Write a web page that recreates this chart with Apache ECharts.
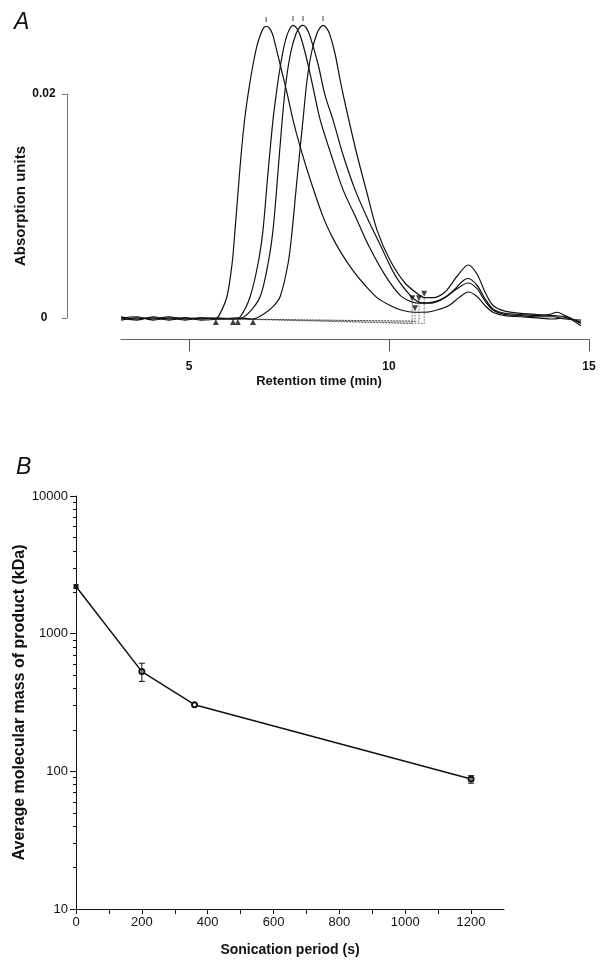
<!DOCTYPE html>
<html>
<head>
<meta charset="utf-8">
<script src="https://cdn.jsdelivr.net/npm/echarts@6/dist/echarts.min.js"></script>
<style>
  html, body { margin: 0; padding: 0; background: #fff; }
  #chart { width: 603px; height: 970px; }
</style>
</head>
<body>
<div id="chart"></div>
<script>
// ---- panel A : chromatograms (time in min, absorbance units) ----
const trace1Time = [3.3, 3.7, 4.1, 4.5, 4.9, 5.3, 5.67, 5.78, 5.95, 6.08, 6.15, 6.22, 6.3, 6.4, 6.5, 6.6, 6.7, 6.8, 6.87, 6.93, 7.0, 7.08, 7.15, 7.28, 7.45, 7.6, 7.78, 8.03, 8.35, 8.58, 8.8, 9.1, 9.4, 9.7, 10.03, 10.3, 10.65, 10.9, 11.2, 11.5, 11.75, 11.98, 12.2, 12.4, 12.6, 12.9, 13.3, 13.7, 14.1, 14.4, 14.8];
const trace1Abs  = [0.0001, -0.0001, 0.0002, 0.0, 0.0001, -0.0001, 0.0, 0.0005, 0.002, 0.005, 0.0079, 0.011, 0.0145, 0.018, 0.0205, 0.0226, 0.0243, 0.0254, 0.0259, 0.026, 0.0259, 0.0254, 0.0245, 0.0226, 0.0201, 0.0177, 0.0153, 0.0124, 0.0091, 0.0073, 0.0059, 0.0043, 0.003, 0.0019, 0.0012, 0.0008, 0.0006, 0.0006, 0.0008, 0.0012, 0.0019, 0.0024, 0.002, 0.0012, 0.0006, 0.0003, 0.0002, 0.0001, 0.0, 0.0001, -0.0003];

const trace2Time = [3.3, 3.7, 4.1, 4.5, 4.9, 5.3, 5.7, 6.1, 6.28, 6.53, 6.73, 6.85, 6.96, 7.1, 7.2, 7.28, 7.38, 7.48, 7.6, 7.7, 7.8, 7.95, 8.1, 8.28, 8.6, 8.85, 9.2, 9.48, 9.9, 10.28, 10.58, 10.8, 11.1, 11.4, 11.7, 11.98, 12.2, 12.4, 12.6, 12.9, 13.3, 13.7, 14.1, 14.4, 14.8];
const trace2Abs  = [0.0002, 0.0, 0.0001, -0.0001, 0.0001, 0.0, 0.0001, 0.0, 0.0002, 0.002, 0.005, 0.0079, 0.0124, 0.0177, 0.0205, 0.0224, 0.0243, 0.0255, 0.0261, 0.0258, 0.025, 0.023, 0.0206, 0.0177, 0.0141, 0.0115, 0.0088, 0.0066, 0.0039, 0.0021, 0.0015, 0.0014, 0.0015, 0.0019, 0.0027, 0.0032, 0.0027, 0.0016, 0.0008, 0.0004, 0.0003, 0.0002, 0.0002, 0.0, -0.0001];

const trace3Time = [3.3, 3.7, 4.1, 4.5, 4.9, 5.3, 5.8, 6.22, 6.48, 6.78, 6.98, 7.1, 7.21, 7.33, 7.43, 7.55, 7.68, 7.78, 7.85, 7.93, 8.03, 8.23, 8.4, 8.6, 8.85, 9.15, 9.48, 9.78, 10.15, 10.53, 10.75, 11.0, 11.3, 11.6, 11.85, 11.98, 12.2, 12.4, 12.6, 12.9, 13.3, 13.7, 14.0, 14.2, 14.4, 14.8];
const trace3Abs  = [-0.0001, 0.0001, 0.0, 0.0002, 0.0, 0.0001, 0.0, 0.0, 0.0005, 0.002, 0.005, 0.0079, 0.0124, 0.0177, 0.0212, 0.0238, 0.0254, 0.026, 0.0261, 0.0259, 0.0251, 0.0226, 0.0199, 0.0177, 0.0146, 0.0115, 0.0088, 0.0066, 0.0039, 0.0021, 0.0015, 0.0014, 0.0017, 0.0025, 0.0034, 0.0036, 0.003, 0.0018, 0.0009, 0.0005, 0.0004, 0.0003, 0.0004, 0.0006, 0.0003, -0.0004];

const trace4Time = [3.3, 3.7, 4.1, 4.5, 4.9, 5.3, 5.8, 6.2, 6.6, 6.85, 7.1, 7.28, 7.48, 7.58, 7.7, 7.85, 7.95, 8.07, 8.2, 8.28, 8.35, 8.43, 8.52, 8.65, 8.78, 8.95, 9.2, 9.45, 9.7, 10.03, 10.4, 10.73, 10.88, 11.1, 11.4, 11.7, 11.98, 12.2, 12.4, 12.6, 12.9, 13.3, 13.7, 14.1, 14.4, 14.8];
const trace4Abs  = [0.0001, 0.0002, -0.0001, 0.0001, -0.0001, 0.0001, 0.0, 0.0001, 0.0, 0.0004, 0.0011, 0.002, 0.005, 0.0079, 0.0124, 0.0177, 0.0212, 0.0238, 0.0254, 0.0259, 0.0261, 0.0259, 0.0253, 0.0236, 0.0212, 0.0184, 0.0146, 0.0112, 0.0079, 0.0052, 0.0032, 0.0022, 0.0019, 0.0019, 0.0024, 0.0038, 0.0048, 0.004, 0.0024, 0.0012, 0.0007, 0.0005, 0.0004, 0.0003, 0.0002, -0.0006];

const peakStart = [[5.67, 0], [6.1, 0], [6.22, 0], [6.6, 0]];
const peakEnd   = [[10.65, 0.0006], [10.58, 0.0015], [10.75, 0.0015], [10.88, 0.0019]];
const peakApex  = [[6.93, 0.026], [7.6, 0.0261], [7.85, 0.0261], [8.35, 0.0261]];
const timeTicks = [5, 10, 15];

// ---- panel B : mass vs sonication ----
const sonicationTime = [0, 200, 360, 1200];
const averageMass    = [2200, 530, 305, 88];
const massErrLow     = [null, 450, null, 82];
const massErrHigh    = [null, 610, null, 93];
const massMinorTicks = [20, 30, 40, 50, 60, 70, 80, 90, 200, 300, 400, 500, 600, 700, 800, 900, 2000, 3000, 4000, 5000, 6000, 7000, 8000, 9000];

const FONT = 'Liberation Sans, Arial, Helvetica, sans-serif';
const traces = [[trace1Time, trace1Abs], [trace2Time, trace2Abs], [trace3Time, trace3Abs], [trace4Time, trace4Abs]];

const chart = echarts.init(document.getElementById('chart'));

let series = [];
traces.forEach(function (tr) {
  series.push({
    type: 'line', xAxisIndex: 0, yAxisIndex: 0,
    data: tr[0].map(function (t, i) { return [t, tr[1][i]]; }),
    smooth: 0.3, symbol: 'none',
    lineStyle: { color: '#111', width: 1.2 },
    silent: true, z: 3
  });
});
// dotted baselines from start to end of each peak
peakStart.forEach(function (s, i) {
  let e = peakEnd[i];
  series.push({
    type: 'line', xAxisIndex: 0, yAxisIndex: 0,
    data: [s, [e[0], -0.0002 * (i % 2 + 1)], e],
    symbol: 'none',
    lineStyle: { color: '#333', width: 0.8, type: [1.5, 1.5] },
    silent: true, z: 2
  });
});
series.push({
  type: 'scatter', xAxisIndex: 0, yAxisIndex: 0, data: peakStart,
  symbol: 'triangle', symbolSize: [6, 6], symbolOffset: [0, 3],
  itemStyle: { color: '#111' }, silent: true, z: 4
});
series.push({
  type: 'scatter', xAxisIndex: 0, yAxisIndex: 0, data: peakEnd,
  symbol: 'triangle', symbolRotate: 180, symbolSize: [6, 6], symbolOffset: [0, -4],
  itemStyle: { color: '#111' }, silent: true, z: 4
});
series.push({
  type: 'scatter', xAxisIndex: 0, yAxisIndex: 0, data: peakApex,
  symbol: 'rect', symbolSize: [1, 5], symbolOffset: [0, -7],
  itemStyle: { color: '#111' }, silent: true, z: 4
});

// panel B
series.push({
  type: 'line', xAxisIndex: 2, yAxisIndex: 2,
  data: sonicationTime.map(function (t, i) {
    return {
      value: [t, averageMass[i]],
      symbol: i === 0 ? 'rect' : 'emptyCircle',
      symbolSize: 5
    };
  }),
  lineStyle: { color: '#111', width: 1.5 },
  itemStyle: { color: '#111', borderWidth: 1 },
  silent: true, z: 3
});
series.push({
  type: 'custom', xAxisIndex: 2, yAxisIndex: 2,
  data: sonicationTime.map(function (t, i) {
    return massErrLow[i] == null ? null : [t, massErrLow[i], massErrHigh[i]];
  }).filter(function (d) { return d; }),
  renderItem: function (params, api) {
    let lo = api.coord([api.value(0), api.value(1)]);
    let hi = api.coord([api.value(0), api.value(2)]);
    let w = 3;
    let st = { stroke: '#111', lineWidth: 1 };
    return {
      type: 'group',
      children: [
        { type: 'line', shape: { x1: lo[0], y1: lo[1], x2: hi[0], y2: hi[1] }, style: st },
        { type: 'line', shape: { x1: lo[0] - w, y1: lo[1], x2: lo[0] + w, y2: lo[1] }, style: st },
        { type: 'line', shape: { x1: hi[0] - w, y1: hi[1], x2: hi[0] + w, y2: hi[1] }, style: st }
      ]
    };
  },
  silent: true, z: 4
});

const option = {
  animation: false,
  backgroundColor: '#fff',
  textStyle: { fontFamily: FONT },
  title: [
    { text: 'A', left: 9, top: 6, textStyle: { fontFamily: FONT, fontSize: 23, fontStyle: 'italic', fontWeight: 'normal', color: '#111' } },
    { text: 'B', left: 11, top: 451, textStyle: { fontFamily: FONT, fontSize: 23, fontStyle: 'italic', fontWeight: 'normal', color: '#111' } }
  ],
  grid: [
    { left: 121, width: 468, top: 19.75, height: 319.5, outerBoundsMode: 'none' },
    { left: 67, width: 10, top: 94, height: 224, outerBoundsMode: 'none' },
    { left: 76, width: 428, top: 496, height: 413, outerBoundsMode: 'none' }
  ],
  xAxis: [
    {
      gridIndex: 0, type: 'value', min: 3.3, max: 15,
      name: 'Retention time (min)', nameLocation: 'middle', nameGap: 36,
      nameTextStyle: { fontFamily: FONT, fontSize: 13, fontWeight: 'bold', color: '#111', padding: [0, 72, 0, 0] },
      axisLine: { show: true, onZero: false, lineStyle: { color: '#666', width: 1 } },
      axisTick: { show: true, length: 12, customValues: timeTicks, lineStyle: { color: '#555' } },
      axisLabel: { customValues: timeTicks, margin: 21, fontFamily: FONT, fontSize: 12, fontWeight: 'bold', color: '#111' },
      splitLine: { show: false }
    },
    { gridIndex: 1, type: 'value', min: 0, max: 1, show: false },
    {
      gridIndex: 2, type: 'value', min: 0, max: 1300, interval: 100,
      name: 'Sonication period (s)', nameLocation: 'middle', nameGap: 34,
      nameTextStyle: { fontFamily: FONT, fontSize: 14, fontWeight: 'bold', color: '#111' },
      axisLine: { show: true, onZero: false, lineStyle: { color: '#111', width: 1 } },
      axisTick: { show: true, length: 5, lineStyle: { color: '#111' } },
      axisLabel: {
        margin: 7, fontFamily: FONT, fontSize: 13, color: '#111', showMaxLabel: false,
        formatter: function (v) { return v % 200 === 0 ? String(v) : ''; }
      },
      splitLine: { show: false }
    }
  ],
  yAxis: [
    { gridIndex: 0, type: 'value', min: -0.0018, max: 0.0266, show: false },
    {
      gridIndex: 1, type: 'value', min: 0, max: 0.02, interval: 0.02, position: 'left',
      name: 'Absorption units', nameLocation: 'middle', nameGap: 39,
      nameTextStyle: { fontFamily: FONT, fontSize: 15, fontWeight: 'bold', color: '#111' },
      axisLine: { show: true, onZero: false, lineStyle: { color: '#777', width: 1 } },
      axisTick: { show: true, length: 5, lineStyle: { color: '#777' } },
      axisLabel: { margin: 23, align: 'center', fontFamily: FONT, fontSize: 12, fontWeight: 'bold', color: '#111' },
      splitLine: { show: false }
    },
    {
      gridIndex: 2, type: 'log', logBase: 10, min: 10, max: 10000, position: 'left',
      name: 'Average molecular mass of product (kDa)', nameLocation: 'middle', nameGap: 48,
      nameMoveOverlap: false,
      nameTextStyle: { fontFamily: FONT, fontSize: 16, fontWeight: 'bold', color: '#111' },
      axisLine: { show: true, onZero: false, lineStyle: { color: '#111', width: 1 } },
      axisTick: { show: true, length: 6, lineStyle: { color: '#111' } },
      axisLabel: { margin: 8, fontFamily: FONT, fontSize: 13, color: '#111', formatter: function (v) { return String(v); } },
      splitLine: { show: false }
    },
    {
      gridIndex: 2, type: 'log', logBase: 10, min: 10, max: 10000, position: 'left',
      axisLine: { show: false, onZero: false },
      axisTick: { show: true, length: 3, customValues: massMinorTicks, lineStyle: { color: '#111' } },
      axisLabel: { show: false },
      splitLine: { show: false }
    }
  ],
  series: series
};

chart.setOption(option);
</script>
</body>
</html>
